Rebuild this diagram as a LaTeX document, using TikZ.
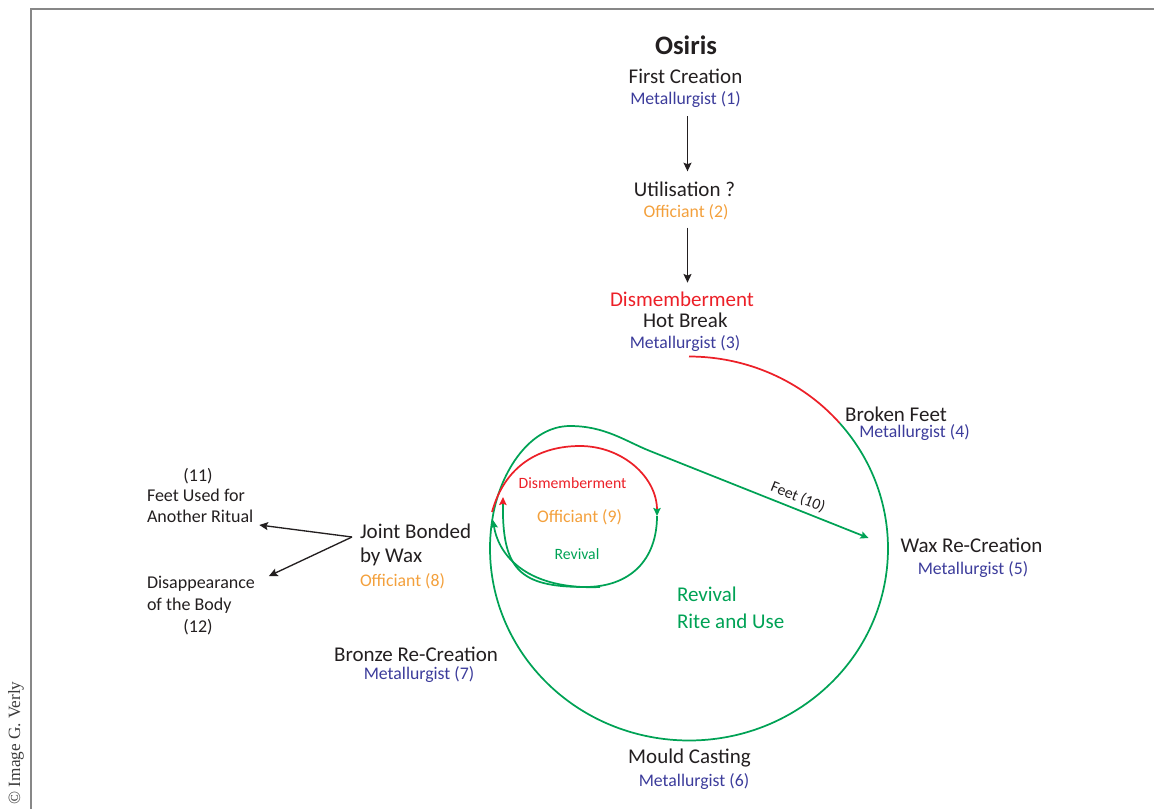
\documentclass[tikz,border=0pt]{standalone}
\usepackage{fontspec}
\setmainfont{Carlito}
\newfontfamily\copyfont{Liberation Serif}
\usetikzlibrary{arrows.meta}
\definecolor{tblack}{RGB}{35,31,32}
\definecolor{tblue}{RGB}{60,60,155}
\definecolor{torange}{RGB}{243,160,60}
\definecolor{tred}{RGB}{236,32,40}
\definecolor{tgreen}{RGB}{0,162,85}
\definecolor{tframe}{RGB}{135,135,135}
\begin{document}
\begin{tikzpicture}[x=0.75pt,y=-0.75pt,
  every node/.style={inner sep=0pt, outer sep=0pt, text=tblack},
  osir/.style={font=\fontsize{20}{24}\selectfont\bfseries},
  big/.style={font=\fontsize{15.75}{19}\selectfont},
  sub/.style={font=\fontsize{13.3}{16}\selectfont},
  lft/.style={font=\fontsize{13.5}{16}\selectfont},
  tiny/.style={font=\fontsize{11.8}{14}\selectfont},
  blu/.style={text=tblue},
  org/.style={text=torange},
  rd/.style={text=tred},
  grn/.style={text=tgreen},
  arr/.style={draw=tblack, line width=1pt, -{Stealth[length=6.5pt,width=6pt,inset=1.2pt]}},
  gline/.style={draw=tgreen, line width=1.3pt},
  rline/.style={draw=tred, line width=1.3pt},
  gtip/.style={-{Stealth[length=6pt,width=5.5pt,inset=1pt,tgreen]}},
  rtip/.style={-{Stealth[length=6pt,width=5.5pt,inset=1pt,tred]}}
]
\useasboundingbox (0,0) rectangle (1154,808);
% frame
\draw[tframe, line width=1.3pt] (31,812) -- (31,9) -- (1160,9);
\node[rotate=90, text={rgb,255:red,60;green,60;blue,60}, font=\copyfont\fontsize{12.9}{15}\selectfont] (copy) at (16,743) {© Image G. Verly};

% top chain
\node[osir] (osiris) at (686,45.5) {Osiris};
\node[big] (fc) at (685.5,76.5) {First Creation};
\node[sub,blu] (m1) at (685.5,100) {Metallurgist (1)};
\node[big] (ut) at (684.5,189.7) {Utilisation ?};
\node[sub,org] (o2) at (686,212) {Officiant (2)};
\node[big,rd] (dis) at (682,299) {Dismemberment};
\node[big] (hb) at (685.3,320) {Hot Break};
\node[sub,blu] (m3) at (685,343.8) {Metallurgist (3)};

\draw[arr] ([shift={(2,8)}]m1.south) -- ([shift={(3,-11)}]ut.north);
\draw[arr] ([shift={(1.5,8)}]o2.south) -- ([shift={(5.5,-9)}]dis.north);

% circle labels
\node[big] (bf) at (896,414) {Broken Feet};
\node[sub,blu] (m4) at (914.5,433) {Metallurgist (4)};
\node[big] (wax) at (971.5,545) {Wax Re-Creation};
\node[sub,blu] (m5) at (973,570) {Metallurgist (5)};
\node[big] (mc) at (689.5,758) {Mould Casting};
\node[sub,blu] (m6) at (694,782) {Metallurgist (6)};
\node[big] (br) at (416,654) {Bronze Re-Creation};
\node[sub,blu] (m7) at (419,675) {Metallurgist (7)};
\node[big,grn,anchor=west] (rv) at (677,594) {Revival};
\node[big,grn,anchor=west] (ru) at (677,621) {Rite and Use};

% joint bonded
\node[big,anchor=west] (jb1) at (360,531) {Joint Bonded};
\node[big,anchor=west] (jb2) at (360,557) {by Wax};
\node[sub,org,anchor=west] (o8) at (360,581) {Officiant (8)};

% left outcomes
\node[lft] (n11) at (198,476) {(11)};
\node[lft,anchor=west] (fu) at (147,495) {Feet Used for};
\node[lft,anchor=west] (ar) at (147,516.5) {Another Ritual};
\node[lft,anchor=west] (dp) at (147,584) {Disappearance};
\node[lft,anchor=west] (ob) at (147,606) {of the Body};
\node[lft] (n12) at (198,627) {(12)};

\draw[arr] ([shift={(-8,6)}]jb1.west) -- ([shift={(6,8.5)}]ar.east);
\draw[arr] ([shift={(-8,6)}]jb1.west) -- ([shift={(14,-8)}]dp.east);

% inner labels
\node[tiny,rd] (dis9) at (572.5,483) {Dismemberment};
\node[sub,org] (o9) at (579.5,517) {Officiant (9)};
\node[tiny,grn] (rv9) at (577,554) {Revival};
\node[tiny,rotate=-21.75] (feet) at (798,497) {Feet (10)};

% big loop
\coordinate (hbpt) at (689,356.5);
\draw[rline] (hbpt) arc[start angle=-90, end angle=-40.8, x radius=199, y radius=192] coordinate (bfpt);
\draw[gline, gtip] (bfpt) arc[start angle=-40.8, end angle=190, x radius=199, y radius=192]
  .. controls (501,471) and (530,426) .. (570,426)
  .. controls (605,426) and (625,441) .. (650,451)
  -- ([shift={(-32,-7)}]wax.west);

% inner loop
\coordinate (rstart) at (492,512);
\draw[rline, gtip] (rstart) .. controls (505,465) and (540,446) .. (580,446)
  arc[start angle=-90, end angle=0, x radius=77, y radius=70] coordinate (rend);
\draw[gline, rtip] (rend) .. controls (657,560) and (630,587) .. (585,587)
  .. controls (520,587) and (502,570) .. (503,497);
\draw[gline, gtip] (600,587) .. controls (530,590) and (499,558) .. (493,520);
\end{tikzpicture}
\end{document}
